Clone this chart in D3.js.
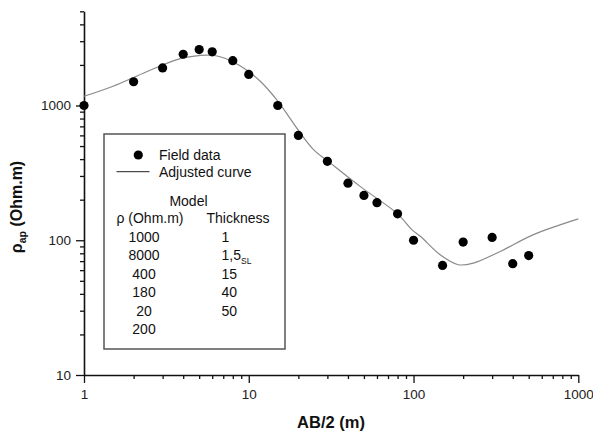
<!DOCTYPE html>
<html>
<head>
<meta charset="utf-8">
<script src="https://cdn.jsdelivr.net/npm/d3@7"></script>
<style>
  html, body { margin: 0; padding: 0; background: #fff; }
  svg { display: block; font-family: "Liberation Sans", Arial, sans-serif; }
</style>
</head>
<body>
<svg id="chart" width="593" height="432"></svg>
<script>
// Vertical electrical sounding: field apparent resistivity and fitted model curve
const fieldAB2 = [1, 2, 3, 4, 5, 6, 8, 10, 15, 20, 30, 40, 50, 60, 80, 100, 150, 200, 300, 400, 500];
const fieldRho = [1000, 1500, 1900, 2400, 2600, 2500, 2150, 1700, 1000, 600, 385, 265, 215, 190, 157, 100, 65, 97, 105, 67, 77];

const curveAB2 = [1, 1.5, 2.4, 3.8, 5.1, 5.8, 6.7, 8.8, 11.7, 14.8, 20.5, 24.7, 31.2, 47.4, 80, 97.7, 110, 145, 187, 231, 336, 535, 1000];
const curveRho = [1170, 1390, 1780, 2220, 2355, 2360, 2300, 1980, 1520, 1100, 627, 471, 375, 251, 157, 120, 107, 78, 65.8, 67.7, 82.6, 110, 144];

const xMajorTicks = [1, 10, 100, 1000];
const yMajorTicks = [10, 100, 1000];

const modelRho = ["1000", "8000", "400", "180", "20", "200"];
const modelThickness = ["1", "1,5", "15", "40", "50"];
const thicknessSub = ["", "SL", "", "", ""];

const svg = d3.select("#chart");

const x = d3.scaleLog().domain([1, 1000]).range([84, 578.3]);
const y = d3.scaleLog().domain([10, 5000]).range([375, 11.3]);

// minor ticks 2..9 in each decade
function minorTicks(lo, hi) {
  const out = [];
  for (let d = lo; d < hi; d *= 10) {
    for (let k = 2; k <= 9; k++) if (d * k <= hi) out.push(d * k);
  }
  return out;
}
const xMinor = minorTicks(1, 1000);
const yMinor = minorTicks(10, 5000);

// X axis
const gx = svg.append("g").attr("transform", "translate(0,375)");
gx.call(d3.axisBottom(x).tickValues(xMinor).tickSize(4).tickFormat(""))
  .call(g => g.select(".domain").remove());
gx.append("g").call(d3.axisBottom(x).tickValues(xMajorTicks).tickSizeInner(8).tickSizeOuter(0)
    .tickPadding(6).tickFormat(d3.format("d")));
gx.selectAll("line").attr("stroke", "#111").attr("stroke-width", 1.3);
gx.selectAll(".domain").attr("stroke", "#111").attr("stroke-width", 1.6);
gx.selectAll("text").attr("font-size", 13.5).attr("fill", "#222")
  .attr("font-family", "Liberation Sans, Arial, sans-serif");

// Y axis
const gy = svg.append("g").attr("transform", "translate(84,0)");
gy.call(d3.axisLeft(y).tickValues(yMinor).tickSize(4).tickFormat(""))
  .call(g => g.select(".domain").remove());
gy.append("g").call(d3.axisLeft(y).tickValues(yMajorTicks).tickSizeInner(8).tickSizeOuter(0)
    .tickPadding(5).tickFormat(d3.format("d")));
gy.selectAll("line").attr("stroke", "#111").attr("stroke-width", 1.3);
gy.selectAll(".domain").attr("stroke", "#111").attr("stroke-width", 1.6);
gy.selectAll("text").attr("font-size", 13.5).attr("fill", "#222")
  .attr("font-family", "Liberation Sans, Arial, sans-serif");

// Axis titles
svg.append("text")
  .attr("x", 331).attr("y", 428)
  .attr("text-anchor", "middle")
  .attr("font-size", 16.5).attr("font-weight", "bold").attr("fill", "#111")
  .text("AB/2 (m)");

const yTitle = svg.append("text")
  .attr("transform", "translate(21.5,207) rotate(-90)")
  .attr("text-anchor", "middle")
  .attr("font-size", 16).attr("font-weight", "bold").attr("fill", "#111");
yTitle.append("tspan").text("ρ");
yTitle.append("tspan").attr("font-size", 10.5).attr("dy", 4).text("ap");
yTitle.append("tspan").attr("dy", -4).text(" (Ohm.m)");

// Fitted curve
const curvePts = curveAB2.map((v, i) => [v, curveRho[i]]);
svg.append("path")
  .datum(curvePts)
  .attr("fill", "none")
  .attr("stroke", "#8a8a8a")
  .attr("stroke-width", 1.2)
  .attr("d", d3.line().x(d => x(d[0])).y(d => y(d[1])).curve(d3.curveCatmullRom.alpha(0.5)));

// Legend box
const lg = svg.append("g");
lg.append("rect")
  .attr("x", 104).attr("y", 134).attr("width", 181).attr("height", 215)
  .attr("fill", "#fff").attr("stroke", "#555").attr("stroke-width", 1.5);

lg.append("circle").attr("cx", 138.3).attr("cy", 155).attr("r", 4.6).attr("fill", "#000");
lg.append("text").attr("x", 159).attr("y", 159.5).attr("font-size", 14).attr("fill", "#111").text("Field data");
lg.append("line").attr("x1", 116.5).attr("x2", 149.5).attr("y1", 171.7).attr("y2", 171.7)
  .attr("stroke", "#222").attr("stroke-width", 1);
lg.append("text").attr("x", 159).attr("y", 176.5).attr("font-size", 14).attr("fill", "#111").text("Adjusted curve");

lg.append("text").attr("x", 188.5).attr("y", 205.5).attr("text-anchor", "middle")
  .attr("font-size", 14).attr("fill", "#111").text("Model");
lg.append("text").attr("x", 150).attr("y", 223.3).attr("text-anchor", "middle")
  .attr("font-size", 14).attr("fill", "#111").text("ρ (Ohm.m)");
lg.append("text").attr("x", 238).attr("y", 223.3).attr("text-anchor", "middle")
  .attr("font-size", 14).attr("fill", "#111").text("Thickness");

const rowY = d3.scaleLinear().domain([0, 5]).range([242, 334]);
modelRho.forEach((v, i) => {
  lg.append("text").attr("x", 144).attr("y", rowY(i)).attr("text-anchor", "middle")
    .attr("font-size", 14).attr("fill", "#111").text(v);
});
modelThickness.forEach((v, i) => {
  const t = lg.append("text").attr("x", 221.5).attr("y", rowY(i))
    .attr("font-size", 14).attr("fill", "#111");
  t.append("tspan").text(v);
  if (thicknessSub[i]) t.append("tspan").attr("font-size", 8.5).attr("dy", 4).text(thicknessSub[i]);
});

// Field data points
svg.append("g").selectAll("circle")
  .data(fieldAB2.map((v, i) => [v, fieldRho[i]]))
  .join("circle")
  .attr("cx", d => x(d[0]))
  .attr("cy", d => y(d[1]))
  .attr("r", 4.6)
  .attr("fill", "#000");
</script>
</body>
</html>
